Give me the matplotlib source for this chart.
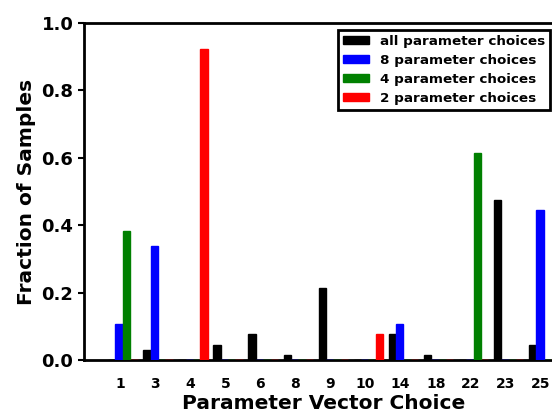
import matplotlib
matplotlib.use("Agg")
import matplotlib.pyplot as plt
import numpy as np

# parameter vector choices on the x axis
choices = ["1", "3", "4", "5", "6", "8", "9", "10", "14", "18", "22", "23", "25"]

# fraction of samples for each number of parameter choices
frac_all = [0.0, 0.030, 0.0, 0.045, 0.077, 0.015, 0.214, 0.0, 0.077, 0.015, 0.0, 0.474, 0.045]
frac_8 = [0.107, 0.338, 0.0, 0.0, 0.0, 0.0, 0.0, 0.0, 0.107, 0.0, 0.0, 0.0, 0.445]
frac_4 = [0.383, 0.0, 0.0, 0.0, 0.0, 0.0, 0.0, 0.0, 0.0, 0.0, 0.613, 0.0, 0.0]
frac_2 = [0.0, 0.0, 0.923, 0.0, 0.0, 0.0, 0.0, 0.077, 0.0, 0.0, 0.0, 0.0, 0.0]

series = [
    (frac_all, "black", "all parameter choices"),
    (frac_8, "blue", "8 parameter choices"),
    (frac_4, "green", "4 parameter choices"),
    (frac_2, "red", "2 parameter choices"),
]

plt.rcParams["font.family"] = "DejaVu Sans"
plt.rcParams["font.weight"] = "bold"
plt.rcParams["axes.labelweight"] = "bold"

fig = plt.figure(figsize=(5.52, 4.12), dpi=100)
ax = fig.add_axes([0.152, 0.126, 0.87, 0.818])

x = np.arange(len(choices))
width = 0.21
for k, (vals, col, lab) in enumerate(series):
    ax.bar(x + k * width, vals, width, align="edge", color=col,
           edgecolor=col, linewidth=1.0, label=lab, zorder=3)

ax.set_xlim(-0.69, 13.0)
ax.set_ylim(0, 1.0)
ax.set_xticks(x + 0.34)
ax.set_xticklabels(choices)
ax.set_yticks([0.0, 0.2, 0.4, 0.6, 0.8, 1.0])
ax.tick_params(axis="x", length=0, labelsize=10, pad=12)
ax.tick_params(axis="y", direction="out", length=4, width=1.5, labelsize=13)
for s in ax.spines.values():
    s.set_linewidth(2)

ax.set_xlabel("Parameter Vector Choice", fontsize=14.5, labelpad=2)
ax.set_ylabel("Fraction of Samples", fontsize=14.5)

leg = ax.legend(loc="upper right", bbox_to_anchor=(0.971, 0.979), fontsize=9.7,
                fancybox=False, framealpha=1, edgecolor="black",
                handlelength=1.95, handleheight=0.58, borderpad=0.35,
                labelspacing=0.45, handletextpad=0.8, borderaxespad=0)
leg.get_frame().set_linewidth(2)

fig.savefig("out.png", dpi=100)
